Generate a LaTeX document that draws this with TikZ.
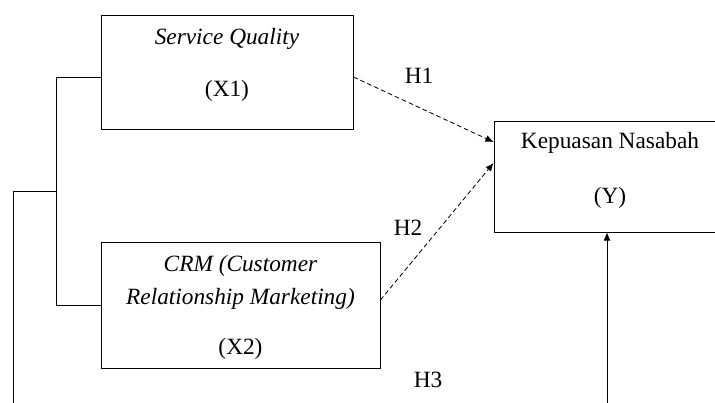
\documentclass[tikz,border=0pt]{standalone}
\usepackage{fontspec}
\setmainfont{Liberation Serif}
\usetikzlibrary{arrows.meta}

\begin{document}
\begin{tikzpicture}[x=0.03cm,y=-0.03cm,>={Latex[length=7pt,width=6pt]},line width=0.7pt,
                    font=\fontsize{19.9}{28}\selectfont]

  \tikzstyle{var}=[rectangle,draw,align=center,inner sep=0pt]
  \tikzstyle{hyp}=[->,dash pattern=on 4pt off 2.5pt]

  \useasboundingbox (0,0) rectangle (715,403);

  \node[var,minimum width=7.56cm,minimum height=3.42cm,text depth=0.55cm] (SQ) at (227,72)
       {\textit{Service Quality} \\[16.4pt] (X1)};
  \node[var,minimum width=8.37cm,minimum height=3.78cm,text depth=0cm] (CRM) at (240.5,305)
       {\textit{CRM (Customer} \\[0pt] \textit{Relationship Marketing)} \\[15pt] (X2)};
  \node[var,minimum width=6.96cm,minimum height=3.33cm,text depth=0.5cm] (KN) at (610,176.5)
       {Kepuasan Nasabah \\[19pt] (Y)};

  \coordinate (join) at (57,191);
  \coordinate (outer) at (13,410);
  \coordinate (up) at (607,410);

  % bracket joining X1 and X2
  \draw ([yshift=-0.15cm]SQ.west) -- ++(-44,0) |- (CRM.west);
  \draw (join) -| (outer);

  \draw[hyp] ([yshift=-0.15cm]SQ.east) -- ([yshift=1.035cm]KN.west);
  \draw[hyp] ([yshift=0.15cm]CRM.east) -- ([yshift=0.405cm]KN.west);
  \draw[->] (up) -- (up |- KN.south);

  \node (H1) at (419,76) {H1};
  \node (H2) at (408,228) {H2};
  \node (H3) at (428,380) {H3};
\end{tikzpicture}
\end{document}
